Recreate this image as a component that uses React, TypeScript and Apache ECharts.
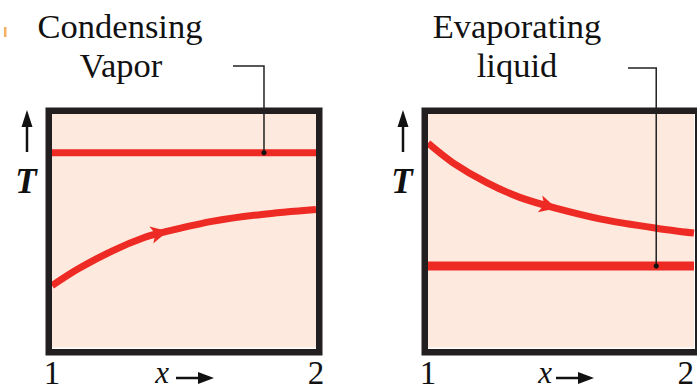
import React, { useEffect, useRef } from "react";
import * as echarts from "echarts";

// ---- data ----
const xTicks = [1, 2];
// Left panel: condensing vapor (flat) and heated stream (rising curve)
const leftCurveX = [1.0, 1.098, 1.227, 1.352, 1.439, 1.606, 1.795, 2.0];
const leftCurveT = [2.65, 3.36, 4.13, 4.72, 4.98, 5.4, 5.7, 5.91];
const leftArrowIndex = 4;
const condensingT = 8.34;
const condensingCalloutX = 1.803;
// Right panel: evaporating liquid (flat) and cooled stream (falling curve)
const rightCurveX = [1.0, 1.094, 1.221, 1.345, 1.483, 1.655, 1.858, 2.0];
const rightCurveT = [8.75, 7.91, 7.06, 6.43, 5.96, 5.49, 5.11, 4.9];
const rightArrowIndex = 4;
const evaporatingT = 3.49;
const evaporatingCalloutX = 1.858;

const RED = "#ee2a24";
const DARK = "#231f20";
const FILL = "#fde9dd";
const SERIF = "'Liberation Serif', 'Times New Roman', serif";

function curveData(xs: number[], ts: number[], arrowIdx: number, rot: number) {
  return xs.map((x, i) =>
    i === arrowIdx
      ? {
          value: [x, ts[i]],
          symbol: "arrow",
          symbolSize: [13, 17],
          symbolRotate: rot,
          itemStyle: { color: RED },
        }
      : { value: [x, ts[i]] }
  );
}

export default function App() {
  const ref = useRef<HTMLDivElement>(null);
  useEffect(() => {
    if (!ref.current) return;
    const chart = echarts.init(ref.current, null, { renderer: "svg" });
    const xAxisBase = (gridIndex: number, alignMax: string) => ({
      type: "value",
      gridIndex,
      min: 1,
      max: 2,
      interval: 1,
      axisLine: { show: false },
      axisTick: { show: false },
      splitLine: { show: false },
      axisLabel: {
        color: "#111",
        fontFamily: SERIF,
        fontSize: 33,
        lineHeight: 24,
        verticalAlign: "middle",
        margin: 25,
        alignMaxLabel: alignMax,
        formatter: (v: number) => (xTicks.includes(v) ? String(v) : ""),
      },
    });
    const yAxisBase = (gridIndex: number) => ({
      type: "value",
      gridIndex,
      min: 0,
      max: 10,
      show: false,
    });
    chart.setOption({
      animation: false,
      grid: [
        { left: 52, top: 114, width: 264, height: 235, show: true, backgroundColor: FILL, borderWidth: 0 },
        { left: 428, top: 114, width: 267, height: 235, show: true, backgroundColor: FILL, borderWidth: 0 },
      ],
      xAxis: [xAxisBase(0, "center"), xAxisBase(1, "right")],
      yAxis: [yAxisBase(0), yAxisBase(1)],
      series: [
        {
          type: "line",
          xAxisIndex: 0,
          yAxisIndex: 0,
          data: [[1, condensingT], [2, condensingT]],
          symbol: "none",
          lineStyle: { color: RED, width: 7 },
        },
        {
          type: "line",
          xAxisIndex: 0,
          yAxisIndex: 0,
          data: curveData(leftCurveX, leftCurveT, leftArrowIndex, -77),
          smooth: 0.3,
          symbol: "none",
          showSymbol: true,
          lineStyle: { color: RED, width: 7 },
          itemStyle: { color: RED },
        },
        {
          type: "line",
          xAxisIndex: 1,
          yAxisIndex: 1,
          data: [[1, evaporatingT], [2, evaporatingT]],
          symbol: "none",
          lineStyle: { color: RED, width: 9 },
        },
        {
          type: "line",
          xAxisIndex: 1,
          yAxisIndex: 1,
          data: curveData(rightCurveX, rightCurveT, rightArrowIndex, -105),
          smooth: 0.3,
          symbol: "none",
          showSymbol: true,
          lineStyle: { color: RED, width: 7 },
          itemStyle: { color: RED },
        },
      ],
    });

    const pL = chart.convertToPixel({ gridIndex: 0 }, [condensingCalloutX, condensingT]) as number[];
    const pR = chart.convertToPixel({ gridIndex: 1 }, [evaporatingCalloutX, evaporatingT]) as number[];

    const txt = (text: string, x: number, y: number, extra: any = {}) => ({
      type: "text",
      x,
      y,
      z: 110,
      style: {
        text,
        fill: "#111",
        fontFamily: SERIF,
        fontSize: 34.5,
        align: "center",
        verticalAlign: "middle",
        ...extra,
      },
    });
    const frame = (x: number, w: number) => ({
      type: "rect",
      z: 100,
      shape: { x, y: 110.75, width: w, height: 241.5 },
      style: { fill: null, stroke: DARK, lineWidth: 6.5 },
    });
    const hArrow = (x0: number, x1: number, y: number) => [
      { type: "line", z: 110, shape: { x1: x0, y1: y, x2: x1 - 14, y2: y }, style: { stroke: "#111", lineWidth: 2.5 } },
      { type: "polygon", z: 110, shape: { points: [[x1 - 16, y - 6], [x1, y], [x1 - 16, y + 6]] }, style: { fill: "#111" } },
    ];
    const vArrow = (x: number, yTip: number, yBase: number) => [
      { type: "line", z: 110, shape: { x1: x, y1: yBase, x2: x, y2: yTip + 14 }, style: { stroke: "#111", lineWidth: 2.5 } },
      { type: "polygon", z: 110, shape: { points: [[x - 5.5, yTip + 17], [x, yTip], [x + 5.5, yTip + 17]] }, style: { fill: "#111" } },
    ];
    const callout = (x0: number, y0: number, p: number[]) => [
      {
        type: "polyline",
        z: 120,
        shape: { points: [[x0, y0], [p[0], y0], [p[0], p[1]]] },
        style: { stroke: "#222", lineWidth: 1.5, fill: null },
      },
      { type: "circle", z: 121, shape: { cx: p[0], cy: p[1], r: 2.6 }, style: { fill: "#111" } },
    ];
    const tStyle = { fontStyle: "italic", fontWeight: "bold", fontSize: 35, lineHeight: 30 };
    const xStyle = { fontStyle: "italic", fontSize: 31, lineHeight: 18 };

    chart.setOption({
      graphic: [
        frame(48.75, 270.5),
        frame(424.75, 273.5),
        { type: "rect", z: 90, shape: { x: 4, y: 27, width: 2.5, height: 10 }, style: { fill: "#f4b060" } },
        txt("Condensing", 120, 26),
        txt("Vapor", 121, 65),
        txt("Evaporating", 517, 26),
        txt("liquid", 517, 65),
        ...callout(233, 66, pL),
        ...callout(628, 68, pR),
        ...vArrow(27, 110, 152),
        ...vArrow(403, 110, 152),
        txt("T", 26, 181, tStyle),
        txt("T", 402, 181, tStyle),
        txt("x", 162, 372, xStyle),
        txt("x", 545, 372, xStyle),
        ...hArrow(176, 214, 378),
        ...hArrow(556, 594, 378),
      ],
    });
    return () => chart.dispose();
  }, []);
  return (
    <div
      ref={ref}
      style={{ position: "fixed", left: 0, top: 0, width: 697, height: 389, background: "#fff" }}
    />
  );
}
